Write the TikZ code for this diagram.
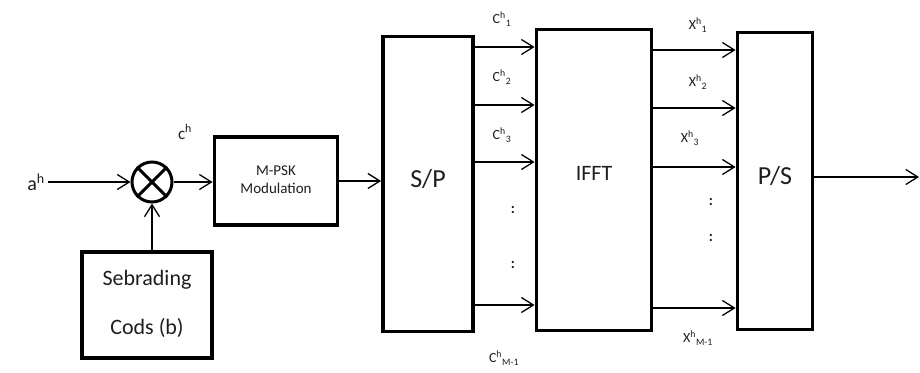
\documentclass[tikz,border=0pt]{standalone}
\usepackage{fontspec}
\setmainfont{Carlito}
\usepackage{tikz}
\usetikzlibrary{arrows.meta, positioning, calc}
\definecolor{inktext}{HTML}{1E1E1E}
\colorlet{boxline}{black}
\newcommand{\hsub}[2]{#1\textsuperscript{h}\textsubscript{#2}}
\tikzset{
  blockbox/.style={draw=boxline, line width=3.8pt, text=inktext, align=center, inner sep=0pt},
  sigline/.style={line width=1.3pt, -{Straight Barb[length=12pt,width=15pt]}},
  sublabel/.style={text=inktext, font=\fontsize{14}{16}\selectfont},
  dotlabel/.style={text=inktext, font=\fontsize{15}{17}\selectfont\bfseries}
}

\begin{document}
\begin{tikzpicture}[x=1pt, y=-1pt]
    \useasboundingbox (0,0) rectangle (920,372);

    % input side
    \node[text=inktext, font=\fontsize{20}{24}\selectfont] (ah) at (36,182) {a\textsuperscript{h}};
    \node[draw=boxline, line width=3pt, circle, minimum size=40pt, inner sep=0pt] (mult) at (152,182) {};
    \draw[line width=3pt] (mult.north west) -- (mult.south east) (mult.north east) -- (mult.south west);
    \node[text=inktext, font=\fontsize{17}{20}\selectfont] (ch) at (185,132) {c\textsuperscript{h}};
    \node[blockbox, minimum width=130pt, minimum height=106pt,
          font=\fontsize{22}{26}\selectfont] (seb) at (147,305)
          {\raisebox{6pt}{\begin{tabular}{@{}c@{}}Sebrading\\[23pt]Cods (b)\end{tabular}}};
    \node[blockbox, minimum width=123pt, minimum height=88pt,
          font=\fontsize{15}{18}\selectfont] (mpsk) at (276,181)
          {\raisebox{2pt}{\begin{tabular}{@{}c@{}}M-PSK\\Modulation\end{tabular}}};

    \draw[sigline] (ah) -- (mult);
    \draw[sigline] (seb.north -| mult.south) -- (mult.south);
    \draw[sigline] (mult.east) -- (mult.east -| mpsk.west);

    % S/P, IFFT, P/S
    \node[blockbox, minimum width=90pt, minimum height=295pt,
          font=\fontsize{26}{30}\selectfont] (sp) at (428,184) {\raisebox{11pt}{S/P}};
    \node[blockbox, minimum width=115pt, minimum height=301pt,
          font=\fontsize{22}{26}\selectfont] (ifft) at (594,180) {\raisebox{14pt}{IFFT}};
    \node[blockbox, minimum width=75pt, minimum height=297pt,
          font=\fontsize{26}{30}\selectfont] (ps) at (775,181) {\raisebox{11pt}{P/S}};
    \coordinate (out) at (919,177);

    \draw[sigline] (mpsk.east) -- (mpsk.east -| sp.west);
    \foreach \y in {47,105,162,305}
      \draw[sigline] (sp.east |- 0,\y) -- (ifft.west |- 0,\y);
    \foreach \y in {50,108,167,308}
      \draw[sigline] (ifft.east |- 0,\y) -- (ps.west |- 0,\y);
    \draw[sigline] (ps.east |- out) -- (out);

    % carrier labels
    \node[sublabel] (c1) at (502,19) {\hsub{C}{1}};
    \node[sublabel] (c2) at (502,77) {\hsub{C}{2}};
    \node[sublabel] (c3) at (502,135) {\hsub{C}{3}};
    \node[dotlabel] (cd1) at (513,210) {:};
    \node[dotlabel] (cd2) at (513,265) {:};
    \node[sublabel] (cm) at (504,358) {\hsub{C}{M-1}};

    \node[sublabel] (x1) at (698,25) {\hsub{X}{1}};
    \node[sublabel] (x2) at (698,82) {\hsub{X}{2}};
    \node[sublabel] (x3) at (690,138) {\hsub{X}{3}};
    \node[dotlabel] (xd1) at (711,202) {:};
    \node[dotlabel] (xd2) at (711,238) {:};
    \node[sublabel] (xm) at (698,338) {\hsub{X}{M-1}};
\end{tikzpicture}
\end{document}
